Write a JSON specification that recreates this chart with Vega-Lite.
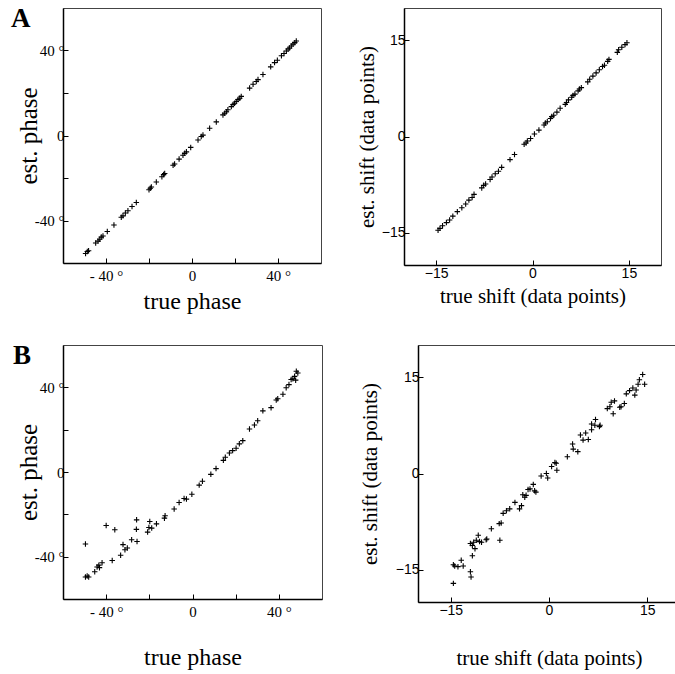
{
  "$schema": "https://vega.github.io/schema/vega-lite/v6.json",
  "background": "white",
  "padding": {"left": 10, "top": 4, "right": 0, "bottom": 0},
  "config": {
    "view": {"stroke": "#444", "strokeWidth": 1},
    "axis": {"grid": false, "domainColor": "black", "domainWidth": 1.5, "tickColor": "black", "tickSize": -5, "labelColor": "black", "titleColor": "black", "titleFontWeight": "normal", "labelFont": "Liberation Serif", "titleFont": "Liberation Serif", "labelFontSize": 15},
    "title": {"font": "Liberation Serif", "fontSize": 27, "fontWeight": "bold", "color": "black", "anchor": "start", "frame": "group"}
  },
  "datasets": {
    "a1": [
      {"t": -49.5, "e": -55.5}, {"t": -48.7, "e": -54.6}, {"t": -48.1, "e": -54.2}, {"t": -44.8, "e": -50.6}, {"t": -43.7, "e": -49.7},
      {"t": -42.9, "e": -48.8}, {"t": -42.2, "e": -47.8}, {"t": -41.4, "e": -47.3}, {"t": -39.4, "e": -45.2}, {"t": -36.3, "e": -42.1},
      {"t": -32.9, "e": -38.5}, {"t": -32.1, "e": -37.8}, {"t": -31.0, "e": -36.5}, {"t": -29.8, "e": -35.4}, {"t": -27.9, "e": -33.4},
      {"t": -25.9, "e": -31.5}, {"t": -20.0, "e": -25.5}, {"t": -19.4, "e": -24.8}, {"t": -18.9, "e": -24.2}, {"t": -16.6, "e": -21.9},
      {"t": -14.0, "e": -19.4}, {"t": -13.2, "e": -18.4}, {"t": -12.7, "e": -17.9}, {"t": -8.8, "e": -14.0}, {"t": -8.1, "e": -13.4},
      {"t": -6.0, "e": -11.1}, {"t": -4.2, "e": -9.3}, {"t": -3.4, "e": -8.4}, {"t": -2.6, "e": -7.7}, {"t": -0.6, "e": -5.6},
      {"t": 2.8, "e": -2.1}, {"t": 4.3, "e": -0.5}, {"t": 5.1, "e": 0.2}, {"t": 8.2, "e": 3.4}, {"t": 11.3, "e": 6.4},
      {"t": 14.4, "e": 9.7}, {"t": 15.2, "e": 10.5}, {"t": 16.0, "e": 11.2}, {"t": 16.7, "e": 12.1}, {"t": 18.3, "e": 13.6},
      {"t": 19.1, "e": 14.6}, {"t": 19.8, "e": 15.2}, {"t": 20.6, "e": 16.0}, {"t": 21.4, "e": 16.9}, {"t": 22.2, "e": 17.5},
      {"t": 22.9, "e": 18.4}, {"t": 26.8, "e": 22.3}, {"t": 28.4, "e": 24.1}, {"t": 29.9, "e": 25.4}, {"t": 30.7, "e": 26.3},
      {"t": 33.0, "e": 28.7}, {"t": 36.6, "e": 32.3}, {"t": 38.4, "e": 34.3}, {"t": 39.7, "e": 35.4}, {"t": 41.6, "e": 37.5},
      {"t": 42.8, "e": 38.6}, {"t": 43.9, "e": 39.8}, {"t": 44.7, "e": 40.7}, {"t": 45.4, "e": 41.2}, {"t": 46.2, "e": 42.1},
      {"t": 47.0, "e": 43.0}, {"t": 47.8, "e": 43.7}, {"t": 48.5, "e": 44.5}
    ],
    "a2": [
      {"t": -14.7, "e": -14.6}, {"t": -14.4, "e": -14.3}, {"t": -14.0, "e": -13.9}, {"t": -13.4, "e": -13.4}, {"t": -12.9, "e": -13.0},
      {"t": -12.4, "e": -12.4}, {"t": -11.7, "e": -11.7}, {"t": -11.0, "e": -11.1}, {"t": -10.4, "e": -10.5}, {"t": -9.9, "e": -9.9},
      {"t": -9.4, "e": -9.5}, {"t": -9.1, "e": -9.0}, {"t": -7.9, "e": -8.0}, {"t": -7.6, "e": -7.6}, {"t": -7.3, "e": -7.4},
      {"t": -6.6, "e": -6.7}, {"t": -6.3, "e": -6.3}, {"t": -5.8, "e": -5.8}, {"t": -5.3, "e": -5.4}, {"t": -4.8, "e": -4.8},
      {"t": -3.5, "e": -3.6}, {"t": -2.8, "e": -2.8}, {"t": -1.3, "e": -1.2}, {"t": -1.0, "e": -1.0}, {"t": -0.8, "e": -0.7},
      {"t": -0.3, "e": -0.3}, {"t": 0.3, "e": 0.4}, {"t": 1.0, "e": 1.0}, {"t": 1.8, "e": 1.8}, {"t": 2.0, "e": 2.1},
      {"t": 2.3, "e": 2.3}, {"t": 2.8, "e": 2.8}, {"t": 3.0, "e": 3.1}, {"t": 3.3, "e": 3.3}, {"t": 3.8, "e": 3.8},
      {"t": 4.3, "e": 4.4}, {"t": 5.1, "e": 5.0}, {"t": 5.3, "e": 5.3}, {"t": 5.6, "e": 5.7}, {"t": 6.1, "e": 6.1},
      {"t": 6.3, "e": 6.4}, {"t": 6.6, "e": 6.6}, {"t": 7.1, "e": 7.1}, {"t": 7.3, "e": 7.4}, {"t": 7.6, "e": 7.6},
      {"t": 8.6, "e": 8.5}, {"t": 8.9, "e": 8.9}, {"t": 9.4, "e": 9.4}, {"t": 9.9, "e": 9.9}, {"t": 10.4, "e": 10.4},
      {"t": 10.9, "e": 10.9}, {"t": 11.2, "e": 11.1}, {"t": 11.7, "e": 11.7}, {"t": 11.9, "e": 12.0}, {"t": 13.2, "e": 13.1},
      {"t": 13.4, "e": 13.5}, {"t": 13.9, "e": 13.9}, {"t": 14.4, "e": 14.3}, {"t": 14.7, "e": 14.6}
    ],
    "b1": [
      {"t": -49.6, "e": -49.6}, {"t": -48.8, "e": -49.1}, {"t": -48.1, "e": -49.6}, {"t": -49.6, "e": -34.0},
      {"t": -45.3, "e": -47.1}, {"t": -44.2, "e": -44.9}, {"t": -43.4, "e": -44.0}, {"t": -43.1, "e": -45.2}, {"t": -41.9, "e": -42.9},
      {"t": -40.0, "e": -25.3}, {"t": -37.2, "e": -41.8}, {"t": -36.0, "e": -27.3},
      {"t": -33.3, "e": -39.3}, {"t": -32.2, "e": -34.3}, {"t": -31.3, "e": -36.7}, {"t": -30.2, "e": -35.9},
      {"t": -28.2, "e": -32.0}, {"t": -26.0, "e": -27.1}, {"t": -25.9, "e": -22.6}, {"t": -25.7, "e": -32.8},
      {"t": -20.8, "e": -28.4}, {"t": -20.2, "e": -26.2}, {"t": -19.8, "e": -23.4}, {"t": -18.9, "e": -26.5}, {"t": -16.7, "e": -24.5},
      {"t": -13.0, "e": -21.8}, {"t": -12.7, "e": -20.7},
      {"t": -8.5, "e": -17.5}, {"t": -6.2, "e": -14.4}, {"t": -3.9, "e": -12.5}, {"t": -2.8, "e": -12.8}, {"t": -0.3, "e": -10.5},
      {"t": 3.1, "e": -6.2}, {"t": 4.6, "e": -4.4}, {"t": 8.5, "e": -1.1}, {"t": 10.9, "e": 1.6},
      {"t": 14.3, "e": 5.5}, {"t": 15.2, "e": 7.0}, {"t": 17.1, "e": 9.0}, {"t": 18.6, "e": 10.1}, {"t": 20.2, "e": 11.2}, {"t": 21.7, "e": 13.3}, {"t": 23.3, "e": 14.8},
      {"t": 26.4, "e": 20.3}, {"t": 28.7, "e": 22.2}, {"t": 30.2, "e": 24.2}, {"t": 32.6, "e": 28.9},
      {"t": 36.4, "e": 30.4}, {"t": 38.8, "e": 34.0}, {"t": 39.5, "e": 34.6}, {"t": 41.9, "e": 36.7}, {"t": 43.4, "e": 39.8}, {"t": 44.7, "e": 41.3},
      {"t": 45.7, "e": 43.7}, {"t": 46.5, "e": 44.0}, {"t": 47.3, "e": 45.2}, {"t": 48.1, "e": 47.6}, {"t": 47.8, "e": 43.4}, {"t": 48.8, "e": 46.8}
    ],
    "b2": [
      {"t": -14.6, "e": -14.2}, {"t": -14.4, "e": -14.4}, {"t": -13.9, "e": -14.5}, {"t": -14.6, "e": -17.1},
      {"t": -13.4, "e": -13.5}, {"t": -13.1, "e": -14.4},
      {"t": -12.0, "e": -15.3}, {"t": -11.9, "e": -16.1}, {"t": -11.7, "e": -12.8},
      {"t": -12.0, "e": -10.9}, {"t": -11.7, "e": -11.2}, {"t": -11.5, "e": -10.7}, {"t": -11.3, "e": -11.7}, {"t": -11.1, "e": -10.4},
      {"t": -10.8, "e": -9.6}, {"t": -10.6, "e": -10.6}, {"t": -10.3, "e": -10.7},
      {"t": -9.6, "e": -10.3}, {"t": -9.5, "e": -10.2}, {"t": -8.8, "e": -8.6},
      {"t": -7.6, "e": -7.8}, {"t": -7.3, "e": -7.7}, {"t": -7.5, "e": -10.4},
      {"t": -7.0, "e": -6.2}, {"t": -6.5, "e": -5.8}, {"t": -6.0, "e": -5.5}, {"t": -5.2, "e": -4.5},
      {"t": -4.5, "e": -5.5}, {"t": -4.2, "e": -5.0}, {"t": -4.0, "e": -3.3}, {"t": -3.7, "e": -3.7}, {"t": -3.5, "e": -3.4},
      {"t": -3.2, "e": -2.5}, {"t": -2.9, "e": -2.4}, {"t": -2.4, "e": -1.7}, {"t": -2.2, "e": -2.7}, {"t": -2.0, "e": -2.9},
      {"t": -1.2, "e": -0.4}, {"t": -0.4, "e": 0.0}, {"t": -0.2, "e": -0.7}, {"t": 0.4, "e": 1.1}, {"t": 0.9, "e": 1.7}, {"t": 1.1, "e": 1.6}, {"t": 1.2, "e": 0.5},
      {"t": 2.8, "e": 2.6}, {"t": 3.6, "e": 4.6}, {"t": 3.7, "e": 3.8}, {"t": 4.4, "e": 3.4},
      {"t": 4.8, "e": 6.0}, {"t": 5.2, "e": 5.2}, {"t": 5.6, "e": 6.3}, {"t": 6.0, "e": 5.3}, {"t": 6.5, "e": 6.8}, {"t": 6.5, "e": 7.7}, {"t": 7.0, "e": 7.5}, {"t": 7.1, "e": 8.4},
      {"t": 7.7, "e": 7.3}, {"t": 7.8, "e": 7.5},
      {"t": 8.9, "e": 10.1}, {"t": 9.3, "e": 10.4}, {"t": 9.5, "e": 11.1}, {"t": 9.8, "e": 9.3}, {"t": 10.0, "e": 11.3}, {"t": 10.8, "e": 10.3}, {"t": 11.0, "e": 10.4}, {"t": 11.5, "e": 10.9}, {"t": 11.8, "e": 12.4},
      {"t": 12.3, "e": 12.9}, {"t": 12.8, "e": 13.3}, {"t": 13.1, "e": 12.2}, {"t": 13.3, "e": 13.0}, {"t": 13.6, "e": 13.9}, {"t": 13.8, "e": 14.6}, {"t": 14.3, "e": 15.4}, {"t": 14.6, "e": 13.9}
    ]
  },
  "spacing": 27,
  "vconcat": [
    {
      "spacing": 83,
      "bounds": "flush",
      "hconcat": [
        {
          "width": 258, "height": 255,
          "title": {"text": "A", "dx": -52, "offset": -25},
          "data": {"name": "a1"},
          "mark": {"type": "point", "shape": "M-1,0L1,0M0,-1L0,1", "filled": false, "stroke": "black", "strokeWidth": 1.1, "size": 30, "opacity": 1},
          "encoding": {
            "x": {"field": "t", "type": "quantitative", "scale": {"domain": [-60, 60], "nice": false, "zero": false},
              "axis": {"title": "true phase", "values": [-40, -20, 0, 20, 40], "labelExpr": "datum.value == 40 ? '40 °' : datum.value == -40 ? '- 40 °' : datum.value == 0 ? '0' : ''", "labelPadding": 10, "titleFontSize": 24, "titleY": 38, "titleBaseline": "middle"}},
            "y": {"field": "e", "type": "quantitative", "scale": {"domain": [-60, 60], "nice": false, "zero": false},
              "axis": {"title": "est. phase", "values": [-40, -20, 0, 20, 40], "labelExpr": "datum.value == 40 ? '40 °' : datum.value == -40 ? '-40 °' : datum.value == 0 ? '0' : ''", "labelPadding": 4, "titleFontSize": 25, "titleX": -35, "titleBaseline": "middle"}}
          }
        },
        {
          "width": 257, "height": 257,
          "data": {"name": "a2"},
          "mark": {"type": "point", "shape": "M-1,0L1,0M0,-1L0,1", "filled": false, "stroke": "black", "strokeWidth": 1.1, "size": 30, "opacity": 1},
          "encoding": {
            "x": {"field": "t", "type": "quantitative", "scale": {"domain": [-20, 20], "nice": false, "zero": false},
              "axis": {"title": "true shift (data points)", "values": [-15, 0, 15], "labelFont": "Liberation Sans", "labelFontSize": 14, "labelPadding": 6, "titleFontSize": 21, "titleY": 31, "titleBaseline": "middle"}},
            "y": {"field": "e", "type": "quantitative", "scale": {"domain": [-20, 20], "nice": false, "zero": false},
              "axis": {"title": "est. shift (data points)", "values": [-15, 0, 15], "labelFont": "Liberation Sans", "labelFontSize": 14, "labelPadding": 4, "titleFontSize": 21, "titleX": -37, "titleBaseline": "middle"}}
          }
        }
      ]
    },
    {
      "spacing": 96,
      "bounds": "flush",
      "hconcat": [
        {
          "width": 259, "height": 254,
          "title": {"text": "B", "dx": -50, "offset": -25},
          "data": {"name": "b1"},
          "mark": {"type": "point", "shape": "M-1,0L1,0M0,-1L0,1", "filled": false, "stroke": "black", "strokeWidth": 1.1, "size": 30, "opacity": 1},
          "encoding": {
            "x": {"field": "t", "type": "quantitative", "scale": {"domain": [-60, 60], "nice": false, "zero": false},
              "axis": {"title": "true phase", "values": [-40, -20, 0, 20, 40], "labelExpr": "datum.value == 40 ? '40 °' : datum.value == -40 ? '- 40 °' : datum.value == 0 ? '0' : ''", "labelPadding": 10, "titleFontSize": 24, "titleY": 58, "titleBaseline": "middle"}},
            "y": {"field": "e", "type": "quantitative", "scale": {"domain": [-60, 60], "nice": false, "zero": false},
              "axis": {"title": "est. phase", "values": [-40, -20, 0, 20, 40], "labelExpr": "datum.value == 40 ? '40 °' : datum.value == -40 ? '-40 °' : datum.value == 0 ? '0' : ''", "labelPadding": 4, "titleFontSize": 25, "titleX": -35, "titleBaseline": "middle"}}
          }
        },
        {
          "width": 262, "height": 257,
          "data": {"name": "b2"},
          "mark": {"type": "point", "shape": "M-1,0L1,0M0,-1L0,1", "filled": false, "stroke": "black", "strokeWidth": 1.1, "size": 30, "opacity": 1},
          "encoding": {
            "x": {"field": "t", "type": "quantitative", "scale": {"domain": [-20, 20], "nice": false, "zero": false},
              "axis": {"title": "true shift (data points)", "values": [-15, 0, 15], "labelFont": "Liberation Sans", "labelFontSize": 14, "labelPadding": 6, "titleFontSize": 21, "titleY": 56, "titleBaseline": "middle"}},
            "y": {"field": "e", "type": "quantitative", "scale": {"domain": [-20, 20], "nice": false, "zero": false},
              "axis": {"title": "est. shift (data points)", "values": [-15, 0, 15], "labelFont": "Liberation Sans", "labelFontSize": 14, "labelPadding": 4, "titleFontSize": 21, "titleX": -48, "titleBaseline": "middle"}}
          }
        }
      ]
    }
  ]
}
